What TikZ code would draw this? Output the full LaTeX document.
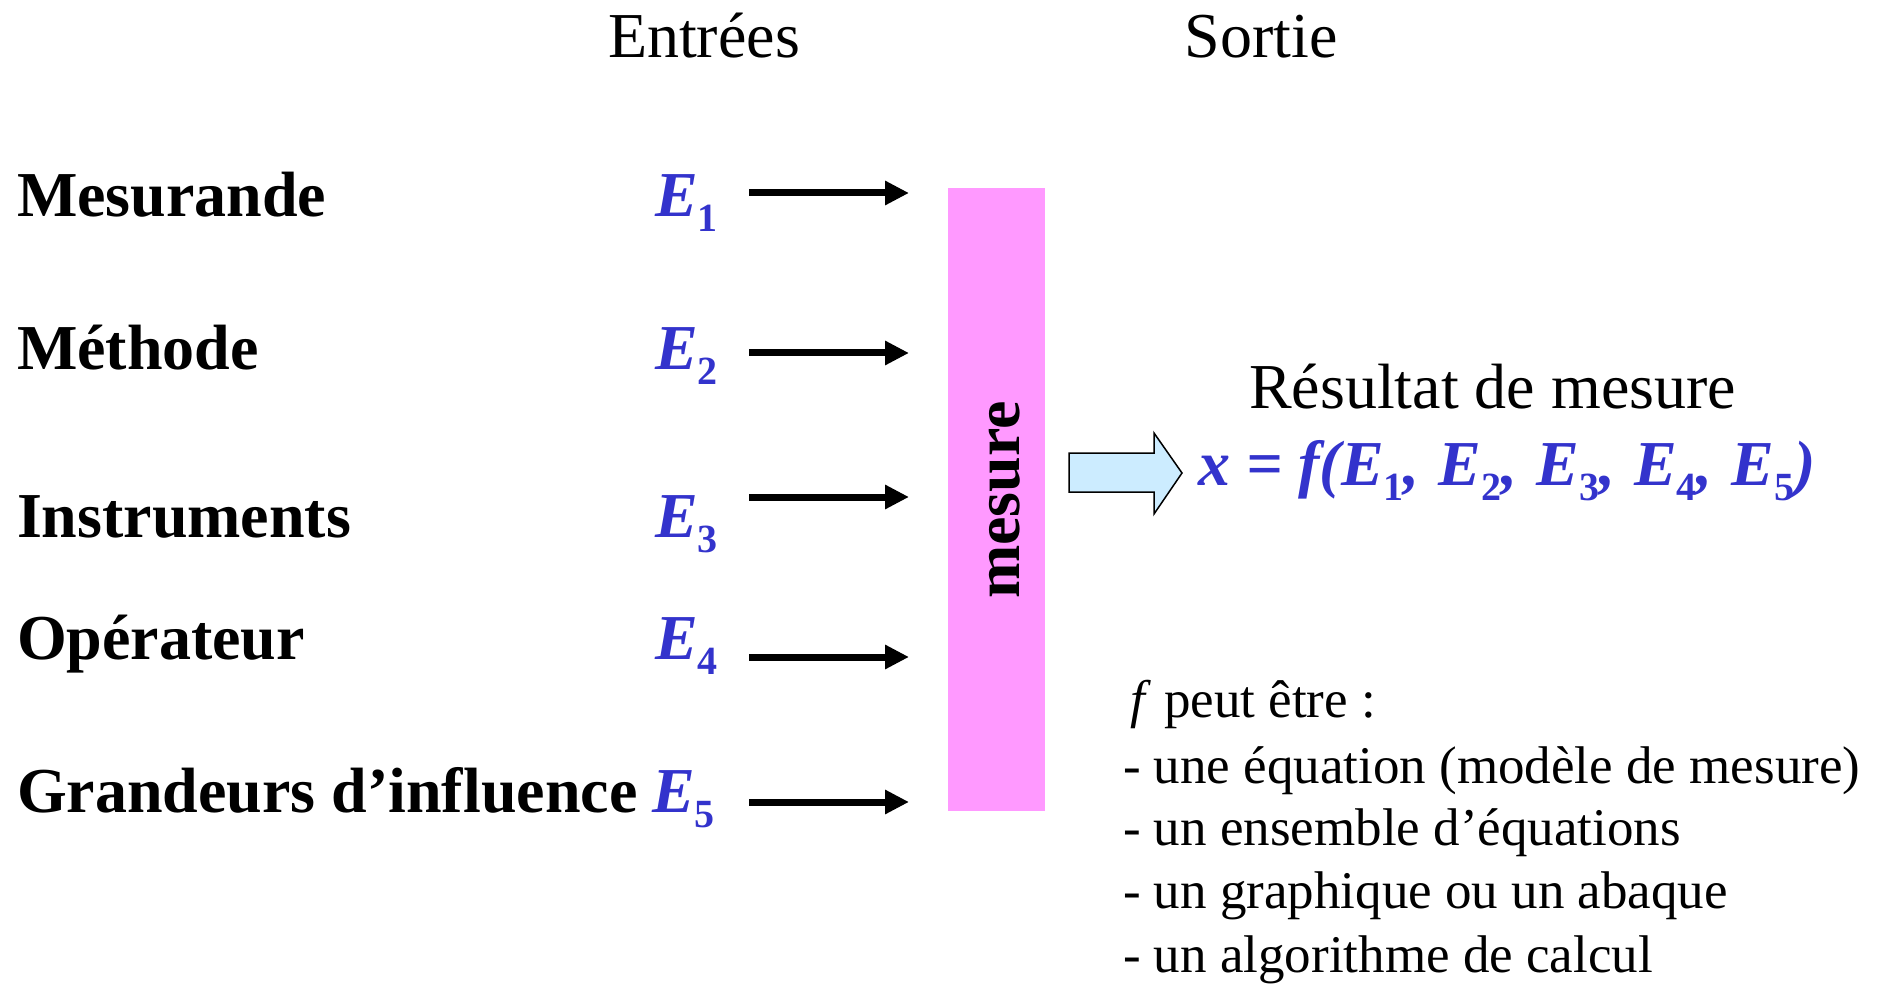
\documentclass[tikz,border=0pt]{standalone}
\usepackage{fontspec}
\setmainfont{Liberation Serif}
\usetikzlibrary{arrows.meta}
\definecolor{eblue}{HTML}{3333CC}
\definecolor{mpink}{HTML}{FF99FF}
\definecolor{lblue}{HTML}{CCECFF}
\newcommand\Esub[1]{{\bfseries\itshape E}\raisebox{-15pt}{\fontsize{40}{40}\selectfont\bfseries\upshape #1}}
\newcommand\bigsz{\fontsize{64}{70}\selectfont}
\newcommand\midsz{\fontsize{53}{60}\selectfont}
\begin{document}
\begin{tikzpicture}[x=1pt,y=-1pt,
  txt/.style={inner sep=0pt,outer sep=0pt,anchor=base west,font=\bigsz},
  lab/.style={txt,font=\bigsz\bfseries},
  elab/.style={txt,text=eblue},
  inarrow/.style={line width=7pt,-{Triangle[length=24pt,width=23pt]}},
  note/.style={txt,font=\midsz}]
\path[use as bounding box] (0,0) rectangle (1883,984);
% titles
\node[txt,anchor=base] (tin) at (704,58) {Entrées};
\node[txt,anchor=base] (tout) at (1261,58) {Sortie};
% input labels
\node[lab] (l1) at (17,217) {Mesurande};
\node[lab] (l2) at (17,370) {Méthode};
\node[lab] (l3) at (17,537) {Instruments};
\node[lab] (l4) at (17,659) {Opérateur};
\node[lab] (l5) at (17,812) {Grandeurs d’influence};
\node[elab] (e1) at (655,217) {\Esub{1}};
\node[elab] (e2) at (655,370) {\Esub{2}};
\node[elab] (e3) at (655,537) {\Esub{3}};
\node[elab] (e4) at (655,659) {\Esub{4}};
\node[elab] (e5) at (652,812) {\Esub{5}};
% measurement block
\node[fill=mpink,inner sep=0pt,minimum width=97pt,minimum height=623pt] (meas) at (996.5,499.5) {};
\node[inner sep=0pt,rotate=90,font=\bigsz\bfseries] (mtxt) at (1005,500) {mesure};
% input arrows
\foreach \i/\y in {1/193,2/353,3/497,4/657,5/802}{
  \coordinate (s\i) at (749,\y);
  \coordinate (t\i) at (909,\y);
  \draw[inarrow] (s\i) -- (t\i);
}
% output arrow
\draw[fill=lblue,line width=1.5pt,line join=miter] (1069,453) -- (1154,453) -- (1154,433) -- (1182,473) -- (1154,514) -- (1154,492) -- (1069,492) -- cycle;
\node[txt] (res) at (1249,408) {Résultat de mesure};
\node[txt,text=eblue,font=\bigsz\bfseries\itshape] (form) at (1198,485) {x = f(\Esub{1},\hspace{3pt} \Esub{2},\hspace{3pt} \Esub{3},\hspace{3pt} \Esub{4},\hspace{3pt} \Esub{5})};
% notes
\node[note] (n0) at (1130,717) {\textit{f} peut être :};
\node[note] (n1) at (1123,783) {- une équation (modèle de mesure)};
\node[note] (n2) at (1123,845) {- un ensemble d’équations};
\node[note] (n3) at (1123,908) {- un graphique ou un abaque};
\node[note] (n4) at (1123,972) {- un algorithme de calcul};
\end{tikzpicture}
\end{document}
